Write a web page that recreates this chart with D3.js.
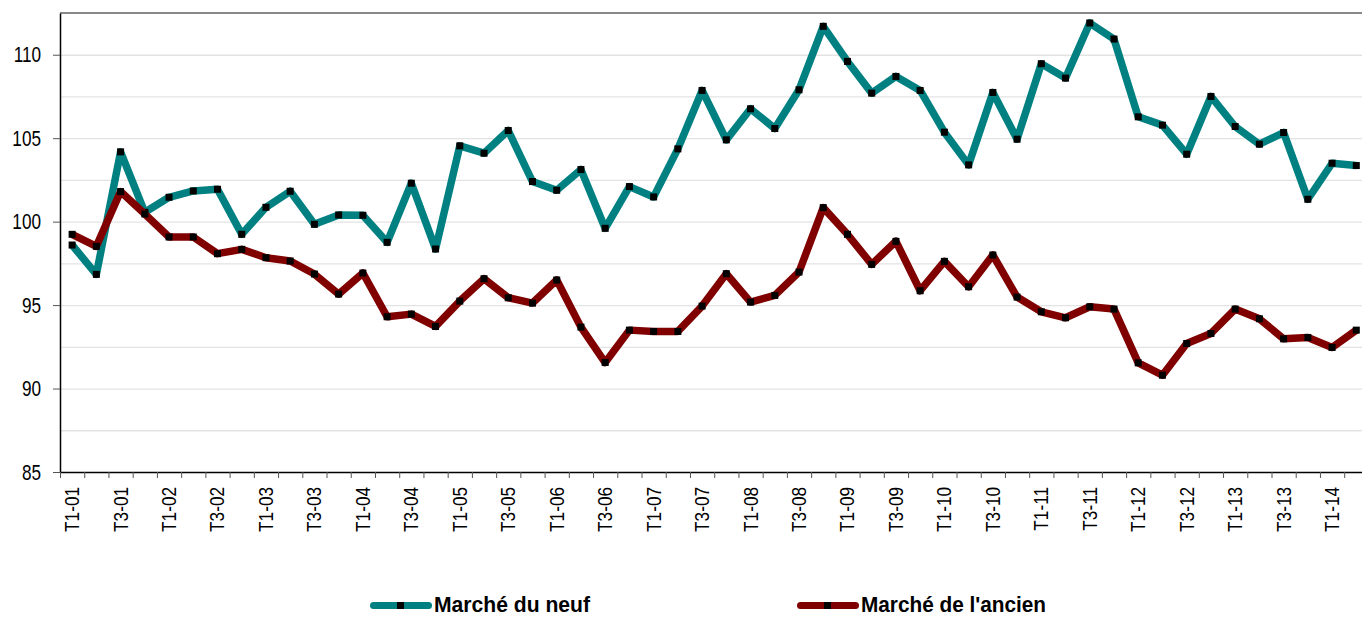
<!DOCTYPE html>
<html>
<head>
<meta charset="utf-8">
<script src="https://cdn.jsdelivr.net/npm/d3@7"></script>
<style>
  body { margin: 0; background: #fff; }
  svg { display: block; }
  text { font-family: "Liberation Sans", Arial, sans-serif; fill: #000; }
</style>
</head>
<body>
<div id="chart"></div>
<script>
// quarters T1-01 .. T2-14
var years = d3.range(1, 15);
var quarters = [];
years.forEach(function(y) {
  [1, 2, 3, 4].forEach(function(q) {
    quarters.push("T" + q + "-" + (y < 10 ? "0" + y : y));
  });
});
quarters = quarters.slice(0, 54);

var neuf = [98.6, 96.84, 104.18, 100.56, 101.46, 101.84, 101.94, 99.24, 100.86, 101.82,
  99.84, 100.4, 100.38, 98.76, 102.3, 98.36, 104.54, 104.1, 105.46, 102.4,
  101.88, 103.12, 99.6, 102.1, 101.48, 104.36, 107.86, 104.9, 106.76, 105.58,
  107.9, 111.7, 109.6, 107.7, 108.7, 107.86, 105.36, 103.4, 107.74, 104.94,
  109.46, 108.6, 111.9, 110.94, 106.28, 105.78, 104.04, 107.5, 105.7, 104.64,
  105.34, 101.34, 103.5, 103.36];

var ancien = [99.24, 98.52, 101.8, 100.46, 99.08, 99.08, 98.08, 98.34, 97.84, 97.64,
  96.86, 95.66, 96.92, 94.3, 94.46, 93.72, 95.24, 96.58, 95.44, 95.12,
  96.5, 93.68, 91.56, 93.5, 93.42, 93.42, 94.94, 96.88, 95.18, 95.58,
  96.98, 100.84, 99.24, 97.44, 98.82, 95.86, 97.62, 96.1, 98.0, 95.48,
  94.6, 94.24, 94.9, 94.76, 91.54, 90.8, 92.7, 93.3, 94.76, 94.18,
  92.98, 93.06, 92.46, 93.5];

var seriesNames = ["Marché du neuf", "Marché de l'ancien"];
var seriesColors = ["#008080", "#800000"];
var yMajorTicks = [85, 90, 95, 100, 105, 110];
var yGridTicks = [87.5, 90, 92.5, 95, 97.5, 100, 102.5, 105, 107.5, 110];

var svgWidth = 1362;
var svgHeight = 617;
var margin = { top: 13, left: 60 };
var step = 24.23;
var width = step * quarters.length;
var height = 472 - margin.top;

var svg = d3.select("#chart").append("svg")
  .attr("width", svgWidth)
  .attr("height", svgHeight);

var chartGroup = svg.append("g")
  .attr("transform", `translate(${margin.left}, ${margin.top})`);

var x = d3.scaleBand().domain(quarters).range([0, width]).padding(0);
var xIdx = d3.scaleLinear().domain([0, quarters.length]).range([0, width]);
var y = d3.scaleLinear().domain([85, 112.5]).range([height, 0]);

// narrow look: squeeze text horizontally
function narrow(sel, k) {
  sel.each(function() {
    var len = this.getComputedTextLength();
    d3.select(this).attr("textLength", len * k).attr("lengthAdjust", "spacingAndGlyphs");
  });
}

// gridlines
chartGroup.append("g")
  .attr("class", "grid")
  .call(d3.axisLeft(y).tickValues(yGridTicks).tickSize(-width).tickFormat(""))
  .call(g => g.select(".domain").remove())
  .call(g => g.selectAll("line").attr("stroke", "#e3e3e3").attr("stroke-width", 1.3));

// top border
chartGroup.append("line")
  .attr("x1", 0).attr("x2", svgWidth)
  .attr("y1", 0).attr("y2", 0)
  .attr("stroke", "#888").attr("stroke-width", 2);

// y axis
chartGroup.append("g")
  .call(d3.axisLeft(y).tickValues(yMajorTicks).tickSize(7).tickPadding(12).tickSizeOuter(0))
  .call(g => g.select(".domain").attr("stroke", "#000").attr("stroke-width", 1.5))
  .call(g => g.selectAll("line").attr("stroke", "#555"))
  .call(g => g.selectAll("text").attr("font-size", "22px").attr("font-family", null).call(narrow, 0.78));

// x tick marks on quarter boundaries
chartGroup.append("g")
  .attr("transform", `translate(0, ${height})`)
  .call(d3.axisBottom(xIdx).tickValues(d3.range(0, quarters.length + 1)).tickSize(6).tickFormat("").tickSizeOuter(0))
  .call(g => g.select(".domain").attr("stroke", "#000").attr("stroke-width", 1.5))
  .call(g => g.selectAll("line").attr("stroke", "#555"));

// x labels
chartGroup.append("g")
  .attr("transform", `translate(0, ${height})`)
  .call(d3.axisBottom(x).tickValues(quarters.filter(q => q[1] === "1" || q[1] === "3")).tickSize(0))
  .call(g => g.select(".domain").remove())
  .call(g => g.selectAll("text")
    .attr("font-size", "20px")
    .attr("font-family", null)
    .attr("transform", "rotate(-90)")
    .attr("text-anchor", "end")
    .attr("x", -15)
    .attr("y", 0)
    .attr("dy", "0.35em")
    .call(narrow, 0.86));

var cx = d => x(d) + x.bandwidth() / 2;

[neuf, ancien].forEach(function(vals, k) {
  var pts = quarters.map((q, i) => [q, vals[i]]);
  chartGroup.append("path")
    .datum(pts)
    .attr("fill", "none")
    .attr("stroke", seriesColors[k])
    .attr("stroke-width", 7.5)
    .attr("stroke-linejoin", "round")
    .attr("d", d3.line().x(d => cx(d[0])).y(d => y(d[1])));

  chartGroup.selectAll(".m" + k)
    .data(pts)
    .enter()
    .append("rect")
    .attr("class", "m" + k)
    .attr("x", d => cx(d[0]) - 3.5)
    .attr("y", d => y(d[1]) - 3.5)
    .attr("width", 7)
    .attr("height", 7)
    .attr("fill", "#000");
});

// legend
var legendX = [370, 797];
var legendW = [156, 185];
var legend = svg.selectAll(".legend")
  .data(seriesNames)
  .enter()
  .append("g")
  .attr("class", "legend")
  .attr("transform", (d, i) => `translate(${legendX[i]}, 605.5)`);

legend.append("line")
  .attr("x1", 3.5).attr("x2", 58.5)
  .attr("stroke", (d, i) => seriesColors[i])
  .attr("stroke-width", 7)
  .attr("stroke-linecap", "round");

legend.append("rect")
  .attr("x", 27).attr("y", -3.5)
  .attr("width", 7).attr("height", 7)
  .attr("fill", "#000");

legend.append("text")
  .attr("x", 64)
  .attr("y", 6.5)
  .attr("font-size", "22px")
  .attr("font-weight", "bold")
  .attr("textLength", (d, i) => legendW[i])
  .attr("lengthAdjust", "spacingAndGlyphs")
  .text(d => d);
</script>
</body>
</html>
